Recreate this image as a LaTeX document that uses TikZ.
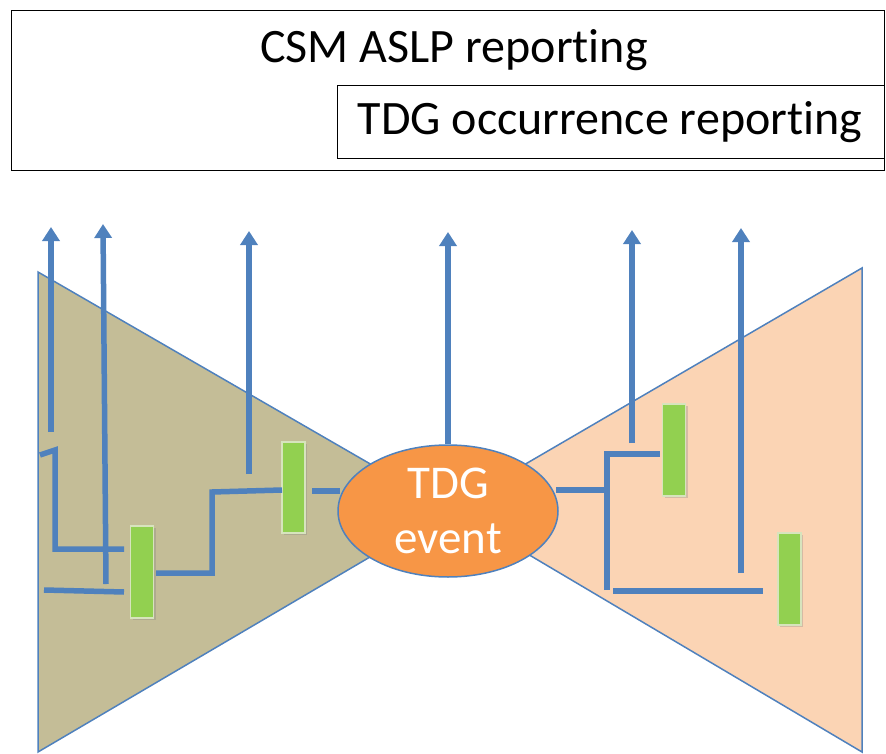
\documentclass[tikz,border=0pt]{standalone}
\usepackage{fontspec}
\setmainfont[Ligatures={NoCommon}]{Carlito}
\usetikzlibrary{arrows.meta,shapes.geometric,shadows}
\definecolor{lineblue}{HTML}{4F81BD}
\definecolor{leftfill}{HTML}{C4BD97}
\definecolor{rightfill}{HTML}{FBD4B4}
\definecolor{boxgreen}{HTML}{92D050}
\definecolor{boxedge}{HTML}{D7E4BD}
\definecolor{eventorange}{HTML}{F79646}
\tikzset{
  wire/.style={draw=lineblue,line width=5.5pt},
  upwire/.style={wire,-{Triangle[width=17pt,length=14pt]}},
  gbox/.style={draw=boxedge,line width=1.3pt,fill=boxgreen,minimum width=23pt,minimum height=92pt,inner sep=0pt,
    drop shadow={shadow xshift=2pt,shadow yshift=-2pt,opacity=0.3}},
  tri/.style={draw=lineblue,line width=1.5pt,line join=miter},
  frame/.style={draw=black,line width=1.2pt,inner sep=0pt},
  bigtext/.style={font=\fontsize{48}{52}\selectfont}
}
\begin{document}
\begin{tikzpicture}[x=1pt,y=-1pt]
\useasboundingbox (0,0) rectangle (886,754);
% header boxes
\node[frame,minimum width=873pt,minimum height=160pt,anchor=north west] (outer) at (11,10) {};
\node[frame,minimum width=547pt,minimum height=73pt,anchor=north west] (inner) at (337,85) {};
\node[bigtext] (csm) at (454,50) {CSM ASLP reporting};
\node[bigtext] (tdgrep) at (610,122) {TDG occurrence reporting};
% bow tie
\filldraw[tri,fill=leftfill] (38,272) -- (38,752) -- (450,510) -- cycle;
\filldraw[tri,fill=rightfill] (862,268) -- (862,752) -- (450,508) -- cycle;
% green barriers
\node[gbox] (b1) at (142,572) {};
\node[gbox,minimum height=91pt] (b2) at (293.5,487.5) {};
\node[gbox] (b3) at (674,450) {};
\node[gbox] (b4) at (789.5,579) {};
% event
\node[ellipse,draw=lineblue,line width=1.5pt,fill=eventorange,minimum width=220pt,minimum height=132pt,inner sep=0pt] (ev) at (448,511) {};
\node[text=white,align=center,font=\fontsize{47}{55}\selectfont] (evtext) at (ev.center) {TDG\\event};
% coordinates
\coordinate (a1s) at (51,432);  \coordinate (a1e) at (51,227);
\coordinate (a2s) at (106,584); \coordinate (a2e) at (103,224);
\coordinate (a3s) at (249,474); \coordinate (a3e) at (249,231);
\coordinate (a4e) at (448,232);
\coordinate (a5s) at (632,443); \coordinate (a5e) at (632,230);
\coordinate (a6s) at (741,573); \coordinate (a6e) at (741,228);
\coordinate (l1a) at (40,455); \coordinate (l1b) at (55,450); \coordinate (l1c) at (55,549); \coordinate (l1d) at (124,549);
\coordinate (l2a) at (44,590); \coordinate (l2b) at (124,592);
\coordinate (l3a) at (156,573); \coordinate (l3b) at (212,573); \coordinate (l3c) at (212,492); \coordinate (l3d) at (282,490);
\coordinate (l4a) at (312,491); \coordinate (l4b) at (340,491);
\coordinate (r1a) at (556,490); \coordinate (r1b) at (607,490);
\coordinate (r2a) at (607,590); \coordinate (r2b) at (607,454); \coordinate (r2c) at (660,454);
\coordinate (r3a) at (613,591); \coordinate (r3b) at (763,591);
% wires
\draw[wire] (l1a) -- (l1b) -- (l1c) -- (l1d);
\draw[wire] (l2a) -- (l2b);
\draw[wire] (l3a) -- (l3b) -- (l3c) -- (l3d);
\draw[wire] (l4a) -- (l4b);
\draw[wire] (r1a) -- (r1b);
\draw[wire] (r2a) -- (r2b) -- (r2c);
\draw[wire] (r3a) -- (r3b);
% arrows up
\draw[upwire] (a1s) -- (a1e);
\draw[upwire] (a2s) -- (a2e);
\draw[upwire] (a3s) -- (a3e);
\draw[upwire] (ev.north) -- (a4e);
\draw[upwire] (a5s) -- (a5e);
\draw[upwire] (a6s) -- (a6e);
\end{tikzpicture}
\end{document}
